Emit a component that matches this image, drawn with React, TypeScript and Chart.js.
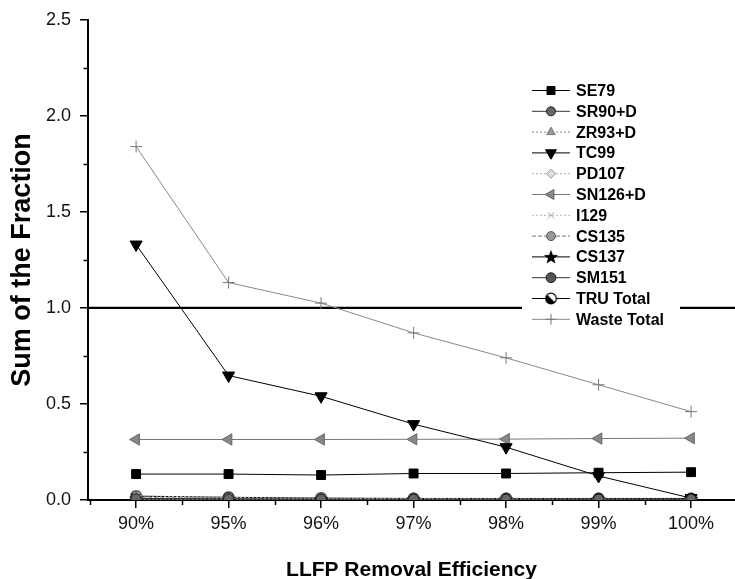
import React, { useEffect, useRef } from 'react';
import { Chart, registerables } from 'chart.js';
import { drawPoint } from 'chart.js/helpers';

Chart.register(...registerables);

const categories = ['90%', '95%', '96%', '97%', '98%', '99%', '100%'];
const se79 = [0.135, 0.135, 0.13, 0.138, 0.138, 0.142, 0.145];
const sr90d = [0.006, 0.005, 0.004, 0.004, 0.004, 0.004, 0.004];
const zr93d = [0.004, 0.003, 0.003, 0.003, 0.003, 0.003, 0.003];
const tc99 = [1.33, 0.648, 0.54, 0.395, 0.275, 0.125, 0.01];
const pd107 = [0.003, 0.002, 0.002, 0.002, 0.002, 0.002, 0.002];
const sn126d = [0.315, 0.315, 0.315, 0.316, 0.317, 0.32, 0.322];
const i129 = [0.022, 0.013, 0.009, 0.007, 0.006, 0.005, 0.004];
const cs135 = [0.012, 0.009, 0.007, 0.006, 0.005, 0.004, 0.003];
const cs137 = [0.008, 0.006, 0.005, 0.005, 0.005, 0.005, 0.005];
const sm151 = [0.003, 0.002, 0.002, 0.002, 0.002, 0.002, 0.002];
const truTotal = [0.02, 0.014, 0.01, 0.008, 0.008, 0.008, 0.008];
const wasteTotal = [1.84, 1.132, 1.025, 0.87, 0.74, 0.6, 0.46];
const yTickValues = [0, 0.5, 1.0, 1.5, 2.0, 2.5];
const limitValue = 1.0;

const FONT = "'Liberation Sans', Arial, Helvetica, sans-serif";
const CANVAS_W = 743;

function makeStar(): HTMLCanvasElement {
  const c = document.createElement('canvas');
  c.width = 16; c.height = 16;
  const g = c.getContext('2d')!;
  g.fillStyle = '#000';
  g.beginPath();
  for (let k = 0; k < 10; k++) {
    const r = k % 2 === 0 ? 7.5 : 3.2;
    const a = -Math.PI / 2 + (k * Math.PI) / 5;
    const px = 8 + r * Math.cos(a);
    const py = 8.5 + r * Math.sin(a);
    if (k === 0) g.moveTo(px, py); else g.lineTo(px, py);
  }
  g.closePath();
  g.fill();
  return c;
}

function makeHalfCircle(): HTMLCanvasElement {
  const c = document.createElement('canvas');
  c.width = 13; c.height = 13;
  const g = c.getContext('2d')!;
  g.fillStyle = '#fff';
  g.beginPath(); g.arc(6.5, 6.5, 5.3, 0, Math.PI * 2); g.fill();
  g.fillStyle = '#000';
  g.beginPath(); g.arc(6.5, 6.5, 5.3, Math.PI * 0.25, Math.PI * 1.25); g.closePath(); g.fill();
  g.strokeStyle = '#000'; g.lineWidth = 1.2;
  g.beginPath(); g.arc(6.5, 6.5, 5.3, 0, Math.PI * 2); g.stroke();
  return c;
}

const toPts = (arr: number[]) => arr.map((v, i) => ({ x: i, y: v }));

export default function App() {
  const ref = useRef<HTMLCanvasElement | null>(null);

  useEffect(() => {
    if (!ref.current) return;
    const star = makeStar();
    const half = makeHalfCircle();

    const mk = (label: string, data: number[], o: any) => ({
      label,
      data: toPts(data),
      borderWidth: 1,
      pointBorderWidth: 1,
      pointRadius: 5,
      pointHoverRadius: 5,
      fill: false,
      tension: 0,
      ...o,
    });

    const datasets = [
      mk('SE79', se79, { borderColor: '#000', pointBackgroundColor: '#000', pointBorderColor: '#000', pointStyle: 'rect', pointRadius: 6.3 }),
      mk('SR90+D', sr90d, { borderColor: '#333', pointBackgroundColor: '#666', pointBorderColor: '#222', pointStyle: 'circle', pointRadius: 5 }),
      mk('ZR93+D', zr93d, { borderColor: '#888', borderDash: [2, 2], pointBackgroundColor: '#999', pointBorderColor: '#777', pointStyle: 'triangle', pointRadius: 5.5 }),
      mk('TC99', tc99, { borderColor: '#000', pointBackgroundColor: '#000', pointBorderColor: '#000', pointStyle: 'triangle', pointRotation: 180, pointRadius: 7 }),
      mk('PD107', pd107, { borderColor: '#aaa', borderDash: [2, 2], pointBackgroundColor: '#ddd', pointBorderColor: '#999', pointStyle: 'rectRot', pointRadius: 5 }),
      mk('SN126+D', sn126d, { borderColor: '#777', pointBackgroundColor: '#888', pointBorderColor: '#666', pointStyle: 'triangle', pointRotation: 270, pointRadius: 6.5 }),
      mk('I129', i129, { borderColor: '#bbb', borderDash: [2, 2], pointBackgroundColor: '#ccc', pointBorderColor: '#aaa', pointStyle: 'crossRot', pointRadius: 5 }),
      mk('CS135', cs135, { borderColor: '#777', borderDash: [4, 2], pointBackgroundColor: '#999', pointBorderColor: '#555', pointStyle: 'circle', pointRadius: 5 }),
      mk('CS137', cs137, { borderColor: '#000', pointStyle: star, pointRadius: 6 }),
      mk('SM151', sm151, { borderColor: '#333', pointBackgroundColor: '#555', pointBorderColor: '#222', pointStyle: 'circle', pointRadius: 5.5 }),
      mk('TRU Total', truTotal, { borderColor: '#000', pointStyle: half, pointRadius: 6 }),
      mk('Waste Total', wasteTotal, { borderColor: '#888', pointBackgroundColor: '#888', pointBorderColor: '#777', pointStyle: 'cross', pointRadius: 6 }),
    ];

    const decorPlugin = {
      id: 'decor',
      beforeDatasetsDraw(chart: any) {
        const { ctx, chartArea, scales } = chart;
        const y = scales.y.getPixelForValue(limitValue);
        ctx.save();
        ctx.strokeStyle = '#000';
        ctx.lineWidth = 2.2;
        ctx.beginPath();
        ctx.moveTo(chartArea.left, y);
        ctx.lineTo(chart.width, y);
        ctx.stroke();
        ctx.restore();
      },
      afterDraw(chart: any) {
        const { ctx, chartArea, scales } = chart;
        ctx.save();
        ctx.strokeStyle = '#000';
        ctx.lineWidth = 1.5;
        // minor y ticks
        for (let k = 0; k < yTickValues.length - 1; k++) {
          const v = (yTickValues[k] + yTickValues[k + 1]) / 2;
          const py = Math.round(scales.y.getPixelForValue(v)) + 0.5;
          ctx.beginPath();
          ctx.moveTo(chartArea.left, py);
          ctx.lineTo(chartArea.left - 4.5, py);
          ctx.stroke();
        }
        // minor x ticks
        for (let k = -1; k < categories.length; k++) {
          const v = k + 0.5;
          if (v < scales.x.min || v > scales.x.max) continue;
          const px = Math.round(scales.x.getPixelForValue(v)) + 0.5;
          ctx.beginPath();
          ctx.moveTo(px, chartArea.bottom);
          ctx.lineTo(px, chartArea.bottom + 5);
          ctx.stroke();
        }
        // legend
        const bx = 522, by = 78, bw = 158, bh = 252;
        ctx.fillStyle = '#fff';
        ctx.fillRect(bx, by, bw, bh);
        chart.data.datasets.forEach((ds: any, i: number) => {
          const y = 90.5 + i * 20.8;
          ctx.save();
          ctx.strokeStyle = ds.borderColor;
          ctx.lineWidth = ds.borderWidth || 1;
          ctx.setLineDash(ds.borderDash || []);
          ctx.beginPath();
          ctx.moveTo(532, y);
          ctx.lineTo(570, y);
          ctx.stroke();
          ctx.setLineDash([]);
          ctx.fillStyle = ds.pointBackgroundColor || '#000';
          ctx.strokeStyle = ds.pointBorderColor || '#000';
          ctx.lineWidth = 1;
          drawPoint(ctx, {
            pointStyle: ds.pointStyle,
            rotation: ds.pointRotation || 0,
            radius: (ds.pointRadius || 5) * 0.9,
            borderWidth: 1,
          }, 551, y);
          ctx.restore();
          ctx.fillStyle = '#000';
          ctx.font = `bold 16px ${FONT}`;
          ctx.textAlign = 'left';
          ctx.textBaseline = 'middle';
          ctx.fillText(ds.label, 576, y + 1);
        });
        ctx.restore();
      },
    };

    const chart = new Chart(ref.current, {
      type: 'line',
      data: { datasets },
      options: {
        animation: false,
        responsive: false,
        devicePixelRatio: 1,
        layout: { padding: { top: 18, right: 0, bottom: 0, left: 0 } },
        plugins: { legend: { display: false }, tooltip: { enabled: false } },
        scales: {
          x: {
            type: 'linear',
            min: -0.52,
            max: 6.475,
            afterFit: (s: any) => { s.height = 79; s.paddingRight = 0; s.paddingLeft = 0; },
            afterBuildTicks: (s: any) => { s.ticks = categories.map((_, i) => ({ value: i })); },
            grid: { display: true, drawOnChartArea: false, drawTicks: true, tickLength: 8, color: '#000', lineWidth: 1.5 },
            border: { display: true, color: '#000', width: 2 },
            ticks: {
              autoSkip: false,
              maxRotation: 0,
              padding: 5,
              color: '#111',
              font: { family: FONT, size: 18 },
              callback: (v: any) => categories[v] ?? '',
            },
            title: {
              display: true,
              text: 'LLFP Removal Efficiency',
              color: '#000',
              font: { family: FONT, size: 21, weight: 'bold', lineHeight: 1 },
              padding: { top: 0, bottom: -2 },
            },
          },
          y: {
            min: 0,
            max: 2.5,
            afterFit: (s: any) => { s.width = 88; },
            afterBuildTicks: (s: any) => { s.ticks = yTickValues.map((v) => ({ value: v })); },
            grid: { display: true, drawOnChartArea: false, drawTicks: true, tickLength: 8, color: '#000', lineWidth: 1.5 },
            border: { display: true, color: '#000', width: 2 },
            ticks: {
              padding: 9,
              color: '#111',
              font: { family: FONT, size: 18 },
              callback: (v: any) => Number(v).toFixed(1),
            },
            title: {
              display: true,
              text: 'Sum of the Fraction',
              color: '#000',
              font: { family: FONT, size: 27, weight: 'bold', lineHeight: 1 },
              padding: { top: 9, bottom: 0 },
            },
          },
        },
      },
      plugins: [decorPlugin],
    });

    return () => chart.destroy();
  }, []);

  return (
    <div style={{ position: 'absolute', left: 0, top: 0, width: 735, height: 579, overflow: 'hidden', background: '#fff' }}>
      <canvas ref={ref} width={CANVAS_W} height={579} style={{ width: CANVAS_W, height: 579, display: 'block' }} />
    </div>
  );
}
